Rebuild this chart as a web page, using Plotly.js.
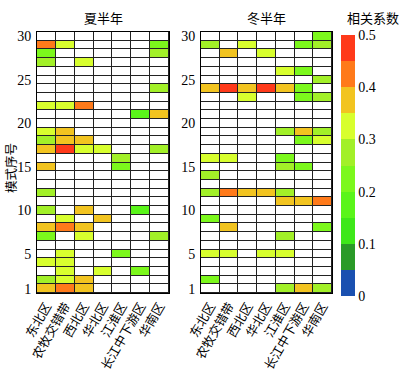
<!DOCTYPE html>
<html>
<head>
<meta charset="utf-8">
<script src="https://cdn.plot.ly/plotly-3.0.1.min.js"></script>
<style>html,body{margin:0;padding:0;background:#fff;}#chart{width:417px;height:374px;}</style>
</head>
<body>
<div id="chart"></div>
<script>
// Regions (columns) and mode numbers (rows)
const regions = ['东北区','农牧交错带','西北区','华北区','江淮区','长江中下游区','华南区'];
const modes = Array.from({length:30}, (_, i) => i + 1);
const yTickVals = [1,5,10,15,20,25,30];
const panelTitles = ['夏半年','冬半年'];
const cbTickVals = [0,0.1,0.2,0.3,0.4,0.5];

// Summer half-year: one array per region, mode 1 ... 30
const S_NE = [.37,.27,null,.32,null, null,.22,.37,null,.27, null,.27,null,null,.37, null,.37,.27,.32,null, null,.32,null,null,null, null,.27,.22,.42,null];
const S_NM = [.42,.32,.32,.32,.32, null,null,.42,.32,null, null,null,null,null,null, null,.47,.37,.37,null, null,.32,null,null,null, null,null,null,.32,null];
const S_NW = [.37,.37,null,null,null, null,.32,.37,null,.37, null,null,null,null,null, null,.32,.37,null,null, null,.42,null,null,null, null,.32,null,null,null];
const S_HB = [null,null,.32,null,null, null,null,null,.37,null, null,null,null,null,null, null,.32,null,null,null, null,null,null,null,null, null,null,null,null,null];
const S_JH = [null,null,null,null,.22, null,null,null,null,null, null,null,null,null,.22, .27,null,null,null,null, null,null,null,null,null, null,null,null,null,null];
const S_CJ = [null,null,.22,null,null, null,null,null,null,.17, null,null,null,null,null, null,null,null,null,null, .17,null,null,null,null, null,null,null,null,null];
const S_HN = [null,null,null,null,null, null,.27,null,null,null, null,null,null,null,null, null,.27,null,null,null, .37,null,null,.27,null, null,null,.27,.22,null];

// Winter half-year
const W_NE = [null,.22,null,null,.32, null,null,null,.22,null, null,.27,null,.27,null, .32,null,null,null,null, null,null,null,.37,null, null,null,null,.27,null];
const W_NM = [null,null,null,null,.32, null,null,.37,null,null, null,.42,null,null,null, .32,null,null,null,null, null,null,null,.47,null, null,null,.37,null,null];
const W_NW = [null,null,null,null,null, null,null,null,null,null, null,.37,null,null,null, null,null,null,null,null, null,null,.32,.37,null, null,null,null,.32,null];
const W_HB = [null,null,null,null,.32, null,null,null,null,null, null,.37,null,null,null, null,null,null,null,null, null,null,null,.47,null, null,null,.32,null,null];
const W_JH = [.27,null,null,null,.32, null,.27,null,null,null, .37,.27,null,null,.27, .22,null,null,.27,null, null,null,null,.37,null, .32,null,null,null,null];
const W_CJ = [.37,null,null,null,null, null,null,null,null,null, .37,null,null,null,.22, null,null,.22,.37,null, null,null,.22,.22,null, .22,null,null,.22,null];
const W_HN = [.27,null,null,null,null, null,null,.22,null,null, .42,null,null,null,null, null,null,.32,.27,null, null,null,.27,null,.27, null,null,null,.27,.22];

const summerCols = [S_NE,S_NM,S_NW,S_HB,S_JH,S_CJ,S_HN];
const winterCols = [W_NE,W_NM,W_NW,W_HB,W_JH,W_CJ,W_HN];

function toRows(cols){
  return modes.map((m, r) => cols.map(c => c[r]));
}
const blank = modes.map(() => regions.map(() => 0));

const binColors = ['#1a50b0','#2a9a28','#3ee81a','#5af51a','#7cf81c','#a2f028','#d8ff2e','#f2c420','#ff7a1a','#ff3a1a'];
const cscale = [];
binColors.forEach((c, i) => { cscale.push([i/10, c]); cscale.push([(i+1)/10, c]); });

const gap = 1;
function bgTrace(xa, ya){
  return {type:'heatmap', x:regions, y:modes, z:blank, xaxis:xa, yaxis:ya,
    colorscale:[[0,'#ffffff'],[1,'#ffffff']], showscale:false, xgap:gap, ygap:gap, hoverinfo:'skip'};
}
const traces = [
  bgTrace('x','y'), bgTrace('x2','y2'),
  {type:'heatmap', x:regions, y:modes, z:toRows(summerCols), xaxis:'x', yaxis:'y',
   colorscale:cscale, zmin:0, zmax:0.5, showscale:false, xgap:gap, ygap:gap},
  {type:'heatmap', x:regions, y:modes, z:toRows(winterCols), xaxis:'x2', yaxis:'y2',
   colorscale:cscale, zmin:0, zmax:0.5, xgap:gap, ygap:gap,
   colorbar:{thickness:14, len:261/374, lenmode:'fraction', x:341/417, xanchor:'left',
     y:1-35/374, yanchor:'top', xpad:0, ypad:0, outlinewidth:0,
     tickvals:cbTickVals, ticktext:cbTickVals.map(String), ticks:'', ticklabelposition:'outside',
     tickfont:{family:'Liberation Serif, serif', size:14, color:'#000'}}}
];

const cjk = 'Noto Sans CJK SC, sans-serif';
const numFont = {family:'Liberation Serif, serif', size:14, color:'#000'};
const yTop = 1-32/374, yBot = 1-293/374;
function xax(d){
  return {domain:d, type:'category', showline:true, mirror:true, linecolor:'#000', linewidth:1,
    showgrid:false, zeroline:false, ticks:'', tickangle:-60,
    tickfont:{family:cjk, size:12.5, color:'#000'}, fixedrange:true};
}
function yax(anchor){
  return {domain:[yBot,yTop], anchor:anchor, range:[0.5,30.5], tickvals:yTickVals, ticks:'',
    showline:true, mirror:true, linecolor:'#000', linewidth:1, showgrid:false, zeroline:false,
    tickfont:numFont, ticklabelstandoff:2, fixedrange:true};
}
const layout = {
  width:417, height:374, margin:{l:0,r:0,t:0,b:0},
  paper_bgcolor:'#fff', plot_bgcolor:'#222',
  showlegend:false,
  xaxis:Object.assign(xax([37/417,169/417]), {anchor:'y'}),
  yaxis:yax('x'),
  xaxis2:Object.assign(xax([201/417,332/417]), {anchor:'y2'}),
  yaxis2:yax('x2'),
  annotations:[
    {text:panelTitles[0], xref:'paper', yref:'paper', x:103/417, y:1-18/374, xanchor:'center', yanchor:'middle', showarrow:false, font:{family:cjk,size:13,color:'#000'}},
    {text:panelTitles[1], xref:'paper', yref:'paper', x:266/417, y:1-18/374, xanchor:'center', yanchor:'middle', showarrow:false, font:{family:cjk,size:13,color:'#000'}},
    {text:'相关系数', xref:'paper', yref:'paper', x:373/417, y:1-18/374, xanchor:'center', yanchor:'middle', showarrow:false, font:{family:cjk,size:13,color:'#000'}},
    {text:'模式序号', xref:'paper', yref:'paper', x:10/417, y:1-168/374, xanchor:'center', yanchor:'middle', showarrow:false, textangle:-90, font:{family:cjk,size:12.5,color:'#000'}}
  ]
};
Plotly.newPlot('chart', traces, layout, {staticPlot:true, displayModeBar:false});
</script>
</body>
</html>
